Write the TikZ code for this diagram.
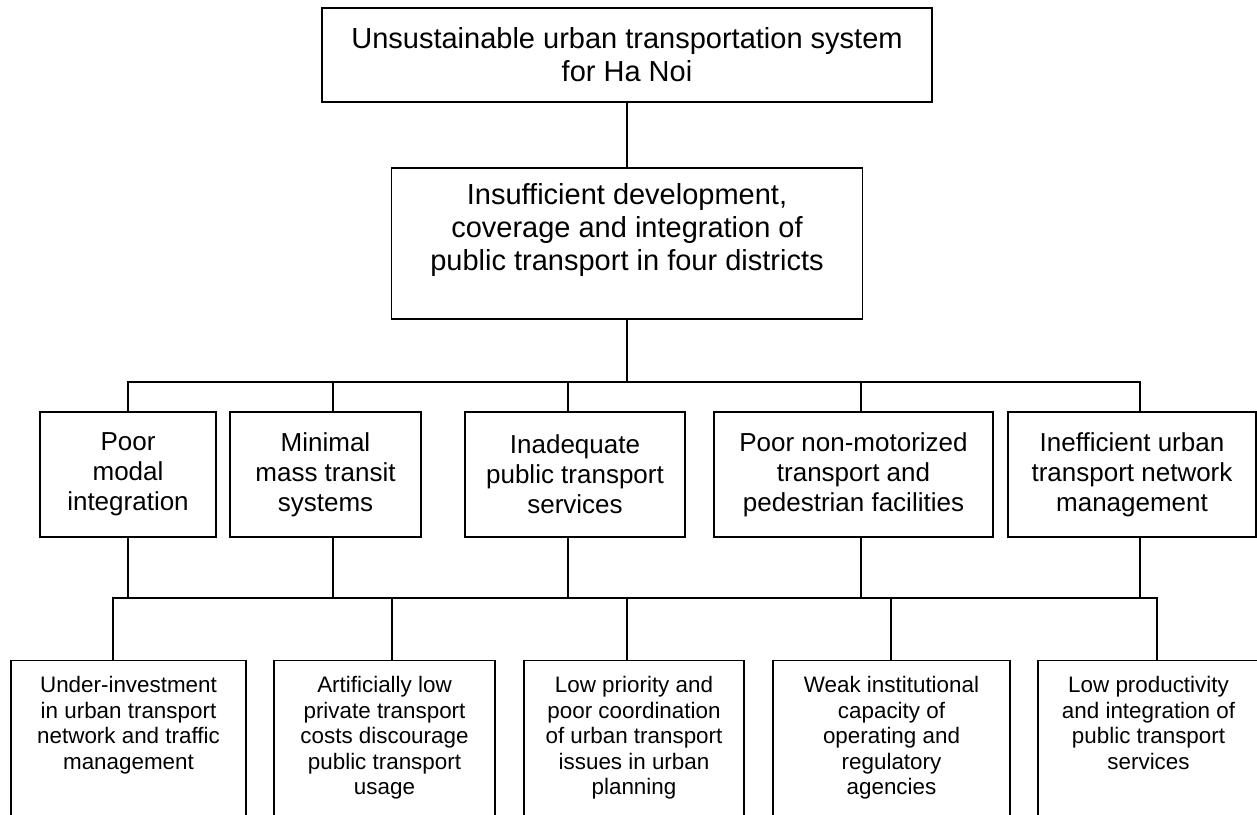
\documentclass[tikz,border=0pt]{standalone}
\usepackage{fontspec}
\setmainfont{Liberation Sans}
\usepackage{tikz}
\usetikzlibrary{positioning,calc}

\tikzset{
  problem/.style={rectangle, draw, line width=0.7pt, align=center, inner sep=0pt},
  cause/.style={rectangle, draw, line width=0.7pt, align=center, inner sep=0pt, minimum height=62.5pt, font=\fontsize{13}{15}\selectfont},
  effect/.style={rectangle, draw, line width=0.7pt, align=center, anchor=north, inner xsep=0pt, inner ysep=8pt, text depth=110pt, font=\fontsize{11.2}{12.7}\selectfont},
  link/.style={line width=0.7pt, line cap=rect}
}

\begin{document}
\begin{tikzpicture}[x=0.5pt, y=-0.5pt]
    \useasboundingbox (0,0) rectangle (1257,814);

    % top problems
    \node (core) [problem, minimum width=305pt, minimum height=47pt, font=\fontsize{14.5}{16.5}\selectfont] at (627,55) {Unsustainable urban transportation system\\for Ha Noi};
    \node (focal) [problem, minimum width=235.5pt, minimum height=75.5pt] at (627,243.5) {};
    \node (focaltext) [below=7.9pt of focal.north, align=center, inner sep=0pt, font=\fontsize{14.5}{16.5}\selectfont] {Insufficient development,\\coverage and integration of\\public transport in four districts};

    % direct causes
    \node (b1) [cause, minimum width=88pt] at (128,474.5) {Poor\\modal\\integration};
    \node (b2) [cause, minimum width=95.5pt] at (325.5,474.5) {Minimal\\mass transit\\systems};
    \node (b3) [cause, minimum width=110pt] at (575,474.5) {Inadequate\\public transport\\services};
    \node (b4) [cause, minimum width=139.5pt] at (853.5,474.5) {Poor non-motorized\\transport and\\pedestrian facilities};
    \node (b5) [cause, minimum width=124pt] at (1132,474.5) {Inefficient urban\\transport network\\management};

    % root causes
    \node (c1) [effect, minimum width=117.5pt] at (128.5,660) {Under-investment\\in urban transport\\network and traffic\\management};
    \node (c2) [effect, minimum width=110.5pt] at (384.5,660) {Artificially low\\private transport\\costs discourage\\public transport\\usage};
    \node (c3) [effect, minimum width=110pt] at (634,660) {Low priority and\\poor coordination\\of urban transport\\issues in urban\\planning};
    \node (c4) [effect, minimum width=118.5pt] at (891.5,660) {Weak institutional\\capacity of\\operating and\\regulatory\\agencies};
    \node (c5) [effect, minimum width=110.5pt] at (1148.5,660) {Low productivity\\and integration of\\public transport\\services};

    \coordinate (bus1) at (627,382);
    \coordinate (bus2) at (627,598);

    \draw [link] (core.south) -- (focal.north);
    \draw [link] (focal.south) -- (bus1);
    \foreach \n/\dx in {b1/0, b2/7.5, b3/-7, b4/7.5, b5/8} {
        \draw [link] (bus1) -| ($(\n.north)+(\dx,0)$);
        \draw [link] ($(\n.south)+(\dx,0)$) |- (bus2);
    }
    \foreach \n/\dx in {c1/-15.5, c2/7.5, c3/-7, c4/-0.5, c5/8.5} {
        \draw [link] (bus2) -| ($(\n.north)+(\dx,0)$);
    }
\end{tikzpicture}
\end{document}
